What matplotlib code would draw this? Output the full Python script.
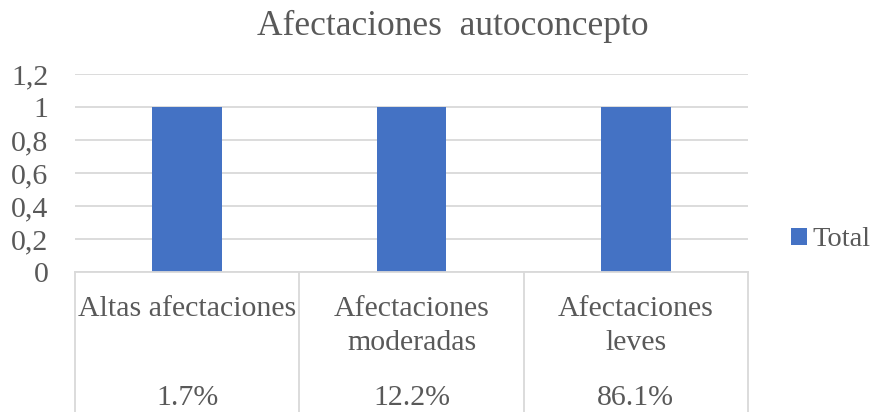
import matplotlib
matplotlib.use("Agg")
import matplotlib.pyplot as plt
from matplotlib.transforms import blended_transform_factory
from matplotlib.patches import Patch

categories = ["Altas afectaciones", "Afectaciones\nmoderadas", "Afectaciones\nleves"]
percent_labels = ["1.7%", "12.2%", "86.1%"]
values = [1, 1, 1]
yticks = [0, 0.2, 0.4, 0.6, 0.8, 1.0, 1.2]
ytick_labels = ["0", "0,2", "0,4", "0,6", "0,8", "1", "1,2"]
series_name = "Total"
title = "Afectaciones  autoconcepto"

plt.rcParams['font.family'] = ['Liberation Serif', 'DejaVu Serif']
TXT = "#595959"
GRID = "#d9d9d9"
BAR = "#4472C4"

W, H = 879, 412
fig = plt.figure(figsize=(W/100, H/100), dpi=100)
left, right, top, bottom = 75, 748, 74, 272
ax = fig.add_axes([left/W, 1-bottom/H, (right-left)/W, (bottom-top)/H])

x = list(range(len(categories)))
ax.bar(x, values, width=0.31, color=BAR, zorder=3)
ax.set_xlim(-0.5, len(categories)-0.5)
ax.set_ylim(0, 1.2)
ax.set_yticks(yticks)
ax.set_yticklabels(ytick_labels, fontsize=21.5, color=TXT)
ax.tick_params(axis='y', length=0, pad=19)
ax.set_xticks([])
for s in ax.spines.values():
    s.set_visible(False)
ax.yaxis.grid(True, color=GRID, linewidth=1.3)
ax.set_axisbelow(True)

# category table lines
tr = blended_transform_factory(ax.transData, fig.transFigure)
ax.plot([-0.5, len(categories)-0.5], [0, 0], color=GRID, lw=1.3, clip_on=False, zorder=4)
for b in [i - 0.5 for i in range(len(categories)+1)]:
    ax.plot([b, b], [1-bottom/H, 0], color=GRID, lw=1.3, transform=tr, clip_on=False)

for i, (c, p) in enumerate(zip(categories, percent_labels)):
    ax.text(i, 1-296/H, c, transform=tr, ha='center', va='top', fontsize=21.5,
            color=TXT, linespacing=1.4)
    ax.text(i, 1-398/H, p, transform=tr, ha='center', va='center', fontsize=21.5,
            color=TXT)

fig.text(453/W, 1-26/H, title, ha='center', va='center', fontsize=25.5, color=TXT)

handles = [Patch(facecolor=BAR, label=series_name)]
fig.legend(handles=handles, loc='center left', bbox_to_anchor=(777/W, 1-240/H),
           frameon=False, fontsize=20.5, handlelength=0.55, handleheight=0.55,
           handletextpad=0.2, labelcolor=TXT, borderpad=0)

fig.savefig("out.png", dpi=100)
